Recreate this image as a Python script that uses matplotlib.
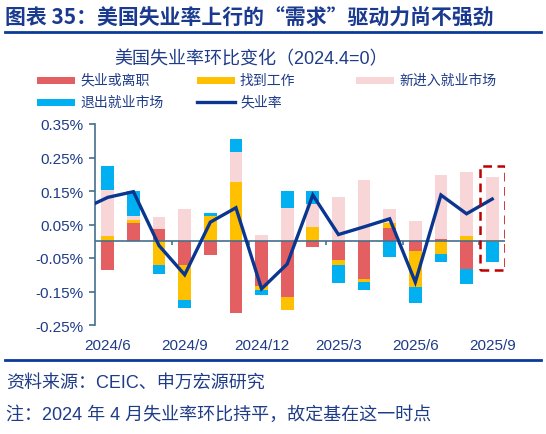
import numpy as np
import matplotlib
matplotlib.use("Agg")
import matplotlib.pyplot as plt
from matplotlib.patches import Rectangle
from matplotlib.lines import Line2D

plt.rcParams['font.family'] = ['Liberation Sans', 'Noto Sans CJK SC', 'DejaVu Sans']

W, H = 546, 435
TEXT_BLUE = '#1F3C88'
AXIS_COLOR = '#46708C'

# months shown as bars
months = ['2024/6', '2024/7', '2024/8', '2024/9', '2024/10', '2024/11', '2024/12',
          '2025/1', '2025/2', '2025/3', '2025/4', '2025/5', '2025/6', '2025/7',
          '2025/8', '2025/9']
shown_labels = ['2024/6', '2024/9', '2024/12', '2025/3', '2025/6', '2025/9']

# contributions to the change in unemployment rate, pct points
job_losers = [-0.087, 0.053, 0.036, -0.070, -0.042, -0.214, -0.134, -0.166,
              -0.018, -0.055, -0.112, 0.039, -0.028, 0.007, -0.082, 0.0]
job_finders = [0.015, 0.009, -0.072, -0.104, 0.075, 0.176, -0.012, -0.040,
               0.042, -0.017, -0.010, 0.016, -0.110, -0.038, 0.017, -0.003]
new_entrants = [0.137, 0.013, 0.036, 0.095, 0.0, 0.090, 0.020, 0.100,
                0.068, 0.131, 0.182, 0.040, 0.060, 0.191, 0.191, 0.193]
leavers = [0.072, 0.075, -0.025, -0.026, 0.008, 0.040, -0.013, 0.051,
           0.040, -0.053, -0.024, -0.047, -0.047, -0.025, -0.046, -0.059]

# unemployment rate vs 2024.4, line starts one month earlier (2024/5)
rate_months = ['2024/5'] + months
unemp_rate = [0.095, 0.131, 0.148, -0.013, -0.100, 0.057, 0.100, -0.142, -0.068,
              0.138, 0.020, 0.043, 0.067, -0.122, 0.138, 0.082, 0.126]

series = [
    ('失业或离职', job_losers, '#E35F62'),
    ('找到工作', job_finders, '#FFC000'),
    ('新进入就业市场', new_entrants, '#F8D5D7'),
    ('退出就业市场', leavers, '#00B0F0'),
]
LINE_COLOR = '#0B3690'


def px(x, y):
    # pixel position -> figure fraction
    return x / W, 1 - y / H


fig = plt.figure(figsize=(W / 100, H / 100), dpi=100)
ax = fig.add_axes([95 / W, 1 - 326 / H, (505 - 95) / W, (326 - 125) / H])

x = np.arange(len(months))
pos_base = np.zeros(len(months))
neg_base = np.zeros(len(months))
for name, vals, color in series:
    v = np.array(vals)
    base = np.where(v >= 0, pos_base, neg_base)
    ax.bar(x, v, width=0.5, bottom=base, color=color, edgecolor='none', zorder=2)
    pos_base += np.where(v >= 0, v, 0)
    neg_base += np.where(v < 0, v, 0)

rx = np.arange(len(rate_months)) - 1
ax.plot(rx, unemp_rate, color=LINE_COLOR, lw=2.4, zorder=4, solid_joinstyle='miter')

# highlight last month
last = len(months) - 1
ax.add_patch(Rectangle((last - 0.49, neg_base[last] - 0.025), 0.98,
                       pos_base[last] - neg_base[last] + 0.057,
                       fill=False, edgecolor='#C00000', lw=1.8,
                       linestyle=(0, (3.5, 2.2)), zorder=5))

ax.axhline(0, color=AXIS_COLOR, lw=1.2, zorder=3)

ax.set_xlim(-0.5, len(months) - 0.5)
ax.set_ylim(-0.25, 0.35)
yt = np.arange(-0.25, 0.351, 0.1)
ax.set_yticks(yt)
ax.set_yticklabels([f'{v:.2f}%' for v in yt], fontsize=11, color=TEXT_BLUE)
ax.tick_params(axis='y', length=4, width=1.2, color=AXIS_COLOR, pad=4)

ax.set_xticks([months.index(m) for m in shown_labels])
ax.set_xticklabels(shown_labels, fontsize=11, color=TEXT_BLUE)
ax.tick_params(axis='x', length=0, pad=9)

for s in ['top', 'right', 'bottom']:
    ax.spines[s].set_visible(False)
ax.spines['left'].set_color(AXIS_COLOR)
ax.spines['left'].set_linewidth(1.2)

# small quarter ticks on the zero line
sec = ax.secondary_xaxis(0.25 / 0.6)
sec.set_xticks(np.arange(2.5, len(months), 3))
sec.tick_params(length=3, width=1.2, color=AXIS_COLOR, labelbottom=False)
sec.spines['bottom'].set_visible(False)

# title and rules
fig.text(*px(5, 18), '图表 35：美国失业率上行的“需求”驱动力尚不强劲',
         family=['Noto Sans CJK SC'], fontsize=15, fontweight='bold',
         color='#1A3A8F', va='center', ha='left')
fig.add_artist(Line2D([5 / W, 541 / W], [1 - 33 / H] * 2, color='#0A3A9A', lw=2))
fig.add_artist(Line2D([5 / W, 541 / W], [1 - 361 / H] * 2, color='#0A3A9A', lw=2))

fig.text(*px(251, 60), '美国失业率环比变化（2024.4=0）', fontsize=13,
         color=TEXT_BLUE, ha='center', va='center')

# legend by hand to match column positions
legend_items = [
    (37, 81, '失业或离职', '#E35F62', 'bar'),
    (197, 81, '找到工作', '#FFC000', 'bar'),
    (356, 81, '新进入就业市场', '#F8D5D7', 'bar'),
    (37, 103, '退出就业市场', '#00B0F0', 'bar'),
    (197, 103, '失业率', LINE_COLOR, 'line'),
]
for lx, ly, label, color, kind in legend_items:
    if kind == 'bar':
        fig.add_artist(Rectangle(px(lx, ly + 3.5), 38 / W, 7 / H,
                                 facecolor=color, edgecolor='none'))
    else:
        fig.add_artist(Line2D([lx / W, (lx + 38) / W], [1 - ly / H] * 2,
                              color=color, lw=2.4))
    fig.text(*px(lx + 43, ly), label, fontsize=10, color=TEXT_BLUE,
             ha='left', va='center')

fig.text(*px(6, 383), '资料来源：CEIC、申万宏源研究', fontsize=13,
         color=TEXT_BLUE, ha='left', va='center')
fig.text(*px(6, 415), '注：2024 年 4 月失业率环比持平，故定基在这一时点', fontsize=13,
         color=TEXT_BLUE, ha='left', va='center')

fig.savefig('out.png', dpi=100)
